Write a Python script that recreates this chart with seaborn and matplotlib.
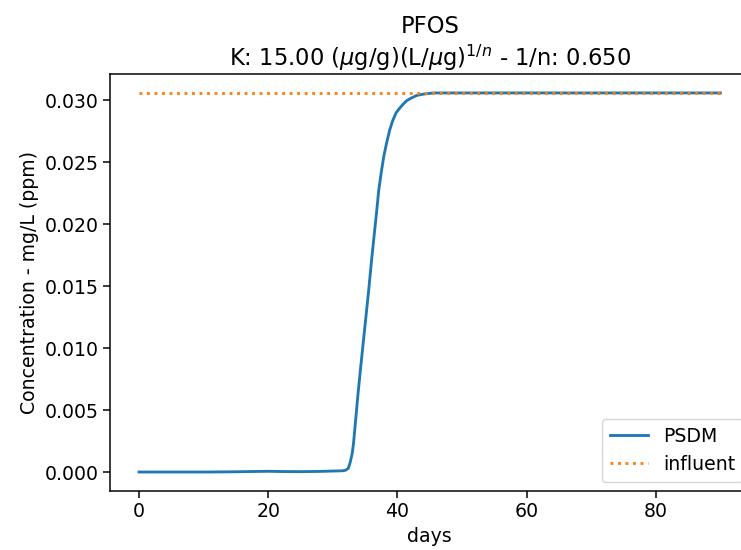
import numpy as np
import pandas as pd
import matplotlib
matplotlib.use('Agg')
import matplotlib.pyplot as plt
import seaborn as sns

# 读图得到的数据 (days, mg/L)
days = [0, 5, 10, 15, 20, 22, 25, 28, 30, 31.5, 32.0, 32.4, 32.7, 33.0, 33.2, 33.5,
        33.9, 34.3, 34.7, 35.1, 35.5, 36.0, 36.4, 36.8, 37.1, 37.5, 37.9, 38.3, 38.8,
        39.3, 39.8, 40.4, 40.9, 41.5, 42.2, 43.0, 44.0, 45.6, 50, 60, 70, 80, 90]
psdm = [0.0, 0.0, 0.0, 0.00002, 0.00006, 0.00004, 0.00003, 0.00005, 0.00008, 0.0001,
        0.00015, 0.0003, 0.0008, 0.0015, 0.0023, 0.0040,
        0.0063, 0.0084, 0.0104, 0.0124, 0.0144, 0.0171, 0.0191, 0.0211, 0.0227, 0.0242,
        0.0255, 0.0265, 0.0276, 0.0284, 0.0290, 0.0294, 0.0297, 0.0300, 0.0302, 0.0304,
        0.0305, 0.0306, 0.0306, 0.0306, 0.0306, 0.0306, 0.0306]
influent_days = [0, 90]
influent = [0.0306, 0.0306]

compound = 'PFOS'
k_value = 15.00
one_over_n = 0.650

scale = 1.36
plt.rcParams['font.size'] = 10 * scale
plt.rcParams['savefig.bbox'] = None

fig = plt.figure(figsize=(7.41, 5.5), dpi=100)
# 参考图右边被裁掉：坐标轴右侧在画布外
ax = fig.add_axes([0.1484, 0.1073, 0.8630, 0.7582])

df_psdm = pd.DataFrame({'days': days, 'conc': psdm})
df_inf = pd.DataFrame({'days': influent_days, 'conc': influent})

sns.lineplot(data=df_psdm, x='days', y='conc', ax=ax, color='#1f77b4',
             linewidth=1.5 * scale, label='PSDM')
sns.lineplot(data=df_inf, x='days', y='conc', ax=ax, color='#ff7f0e',
             linewidth=1.5 * scale, linestyle=':', label='influent')

ax.set_xlim(-4.5, 94.5)
ax.set_xticks([0, 20, 40, 60, 80])
ax.set_yticks([0.0, 0.005, 0.010, 0.015, 0.020, 0.025, 0.030])
ax.yaxis.set_major_formatter(matplotlib.ticker.FormatStrFormatter('%.3f'))
ax.tick_params(labelsize=10 * scale, width=0.8 * scale, length=3.5 * scale)
for s in ax.spines.values():
    s.set_linewidth(0.8 * scale)
ax.spines['right'].set_visible(False)

ax.set_xlabel('days', fontsize=10 * scale)
ax.set_ylabel('Concentration - mg/L (ppm)', fontsize=10 * scale)
ax.set_title(compound + '\nK: ' + f'{k_value:.2f}' + r' ($\mu$g/g)(L/$\mu$g)$^{1/n}$'
             + f' - 1/n: {one_over_n:.3f}', fontsize=12 * scale)
ax.legend(loc='lower right', bbox_to_anchor=(1.004, 0.0), fontsize=10 * scale)

fig.savefig('out.png', dpi=100, bbox_inches=None)
